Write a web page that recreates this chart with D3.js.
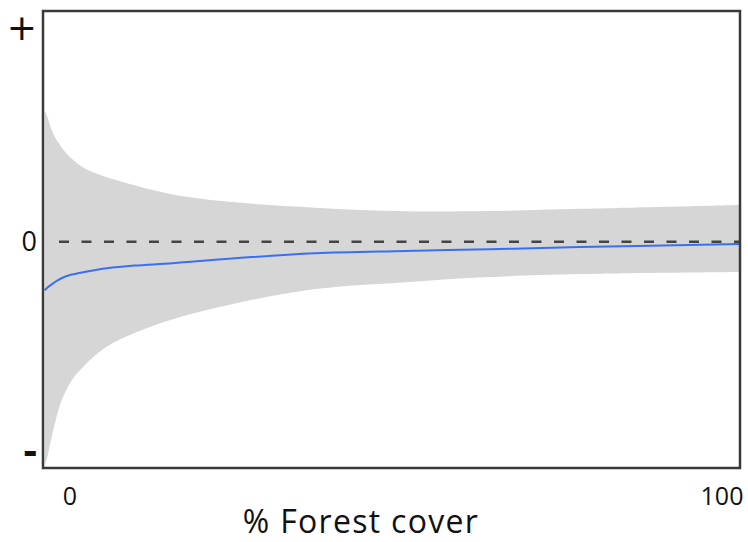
<!DOCTYPE html>
<html>
<head>
<meta charset="utf-8">
<script src="https://cdn.jsdelivr.net/npm/d3@7"></script>
<style>
  html, body { margin: 0; padding: 0; background: #fff; }
  svg { display: block; }
  text { font-family: "Open Sans", "DejaVu Sans", sans-serif; fill: #111; }
</style>
</head>
<body>
<svg id="chart" width="748" height="542"></svg>
<script>
// Forest cover (%) at which the fitted effect is evaluated
const forestCover = [0.1, 0.5, 1.3, 2.5, 4, 6, 9, 13, 18.5, 27, 39, 52, 64, 77, 100];
// Fitted effect (blue line) and its confidence band
const effectMean  = [-0.21, -0.198, -0.18, -0.158, -0.142, -0.13, -0.115, -0.103, -0.093, -0.072, -0.05, -0.04, -0.032, -0.023, -0.01];
const effectUpper = [0.57, 0.54, 0.47, 0.41, 0.36, 0.315, 0.28, 0.245, 0.205, 0.172, 0.148, 0.132, 0.133, 0.143, 0.16];
const effectLower = [-0.97, -0.93, -0.82, -0.69, -0.6, -0.53, -0.455, -0.395, -0.335, -0.27, -0.205, -0.175, -0.153, -0.14, -0.131];
// Axis labels
const yTickValues = [0.93, 0, -0.905];
const yTickLabels = ["+", "0", "-"];
const xTickValues = [0, 100];
const xTickLabels = ["0", "100"];
const xTitle = "% Forest cover";

const svg = d3.select("#chart");
const box = { left: 43, right: 740, top: 11, bottom: 468 };

const x = d3.scaleLinear().domain([0, 100]).range([box.left + 1, box.right]);
const y = d3.scaleLinear().domain([-0.98, 1]).range([box.bottom, box.top]);

const rows = forestCover.map((c, i) => ({
  c, mean: effectMean[i], lo: effectLower[i], hi: effectUpper[i]
}));

// confidence band
svg.append("path")
  .datum(rows)
  .attr("fill", "#d6d6d6")
  .attr("d", d3.area()
    .x(d => x(d.c))
    .y0(d => y(d.lo))
    .y1(d => y(d.hi))
    .curve(d3.curveCatmullRom.alpha(0.5)));

// zero reference line
svg.append("line")
  .attr("x1", 48).attr("x2", box.right)
  .attr("y1", y(0)).attr("y2", y(0))
  .attr("stroke", "#444")
  .attr("stroke-width", 2.5)
  .attr("stroke-dasharray", "10,12.5")
  .attr("stroke-dashoffset", -11);

// fitted effect
svg.append("path")
  .datum(rows)
  .attr("fill", "none")
  .attr("stroke", "#3b6ff2")
  .attr("stroke-width", 2)
  .attr("d", d3.line()
    .x(d => x(d.c))
    .y(d => y(d.mean))
    .curve(d3.curveCatmullRom.alpha(0.5)));

// frame
svg.append("rect")
  .attr("x", box.left).attr("y", box.top)
  .attr("width", box.right - box.left)
  .attr("height", box.bottom - box.top)
  .attr("fill", "none")
  .attr("stroke", "#3a3a3a")
  .attr("stroke-width", 2.5);

// y labels
const yFonts = ["DejaVu Sans", "Open Sans", "Open Sans"];
const ySizes = [36, 27, 42];
const yWeights = ["normal", "normal", "bold"];
svg.selectAll("text.ylab")
  .data(yTickValues)
  .join("text")
  .attr("class", "ylab")
  .attr("x", 37)
  .attr("y", d => y(d))
  .attr("dy", "0.35em")
  .attr("text-anchor", "end")
  .style("font-family", (d, i) => `"${yFonts[i]}", sans-serif`)
  .style("font-size", (d, i) => ySizes[i] + "px")
  .style("font-weight", (d, i) => yWeights[i])
  .text((d, i) => yTickLabels[i]);

// x labels
svg.selectAll("text.xlab")
  .data(xTickValues)
  .join("text")
  .attr("class", "xlab")
  .attr("x", d => d === 0 ? x(d) + 26 : x(d) - 18)
  .attr("y", 505)
  .attr("text-anchor", "middle")
  .style("font-size", "25px")
  .text((d, i) => xTickLabels[i]);

svg.append("text")
  .attr("x", 361)
  .attr("y", 533)
  .attr("text-anchor", "middle")
  .style("font-size", "32px")
  .style("letter-spacing", "1.3px")
  .text(xTitle);
</script>
</body>
</html>
